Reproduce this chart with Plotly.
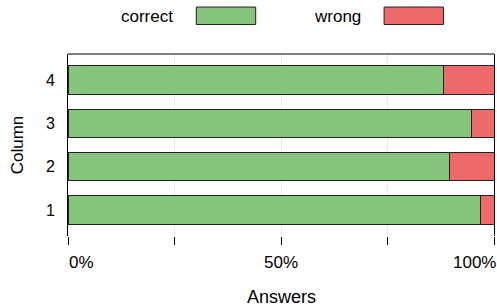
import plotly.graph_objects as go

columns = ["1", "2", "3", "4"]
correct = [96.8, 89.5, 94.8, 88.1]
wrong = [3.2, 10.5, 5.2, 11.9]
tick_vals = [0, 25, 50, 75, 100]
tick_text = ["0%", "", "50%", "", "100%"]
series_names = ["correct", "wrong"]
colors = ["#86C67C", "#EE6A6A"]

FONT = "Liberation Sans, Arial, sans-serif"

fig = go.Figure()
for name, vals, col in zip(series_names, [correct, wrong], colors):
    fig.add_trace(go.Bar(
        y=[int(c) for c in columns], x=vals, name=name, orientation="h",
        marker=dict(color=col, line=dict(color="#222222", width=1)),
        width=0.66, showlegend=False,
    ))

fig.update_layout(
    barmode="stack",
    width=497, height=307,
    margin=dict(l=68, r=3, t=54, b=71),
    paper_bgcolor="white", plot_bgcolor="white",
    font=dict(family=FONT, size=16, color="#000000"),
    xaxis=dict(
        range=[0, 100], tickvals=tick_vals, showticklabels=False,
        ticks="outside", ticklen=8, tickcolor="#000000", tickwidth=1,
        showgrid=True, gridcolor="#EBEBEB", gridwidth=1,
        zeroline=False, showline=False, fixedrange=True,
    ),
    yaxis=dict(
        range=[0.4, 4.6], tickvals=[1, 2, 3, 4], ticktext=columns,
        ticks="outside", ticklen=9, tickcolor="rgba(0,0,0,0)",
        showgrid=False, zeroline=False,
        showline=True, mirror=True, linecolor="#000000", linewidth=1,
        tickfont=dict(size=16),
        title=dict(text="Column", font=dict(size=17), standoff=17),
    ),
)

# top border
fig.add_shape(type="line", xref="paper", yref="paper", x0=0, x1=1, y0=1, y1=1,
              line=dict(color="#000000", width=1))

# x tick labels (ends aligned inward)
for v, t in zip(tick_vals, tick_text):
    if not t:
        continue
    anchor = "left" if v == tick_vals[0] else ("right" if v == tick_vals[-1] else "center")
    fig.add_annotation(x=v, y=0, xref="x", yref="paper", text=t, showarrow=False,
                       xanchor=anchor, yanchor="middle", yshift=-26,
                       font=dict(size=17), xshift=(4 if anchor == "right" else -1 if anchor == "left" else 0))

# x title
fig.add_annotation(x=0.5, y=0, xref="paper", yref="paper", text="Answers",
                   showarrow=False, yanchor="middle", yshift=-61, font=dict(size=18))

# legend (text left of swatch)
box_x0 = [0.3012, 0.7420]
for i, (name, col) in enumerate(zip(series_names, colors)):
    fig.add_annotation(x=box_x0[i], y=1.205, xref="paper", yref="paper",
                       text=name, showarrow=False, xanchor="right", yanchor="middle",
                       xshift=-21, font=dict(size=17))
    fig.add_shape(type="rect", xref="paper", yref="paper",
                  x0=box_x0[i], x1=box_x0[i] + 0.1394, y0=1.162, y1=1.258,
                  fillcolor=col, line=dict(color="#222222", width=1))

fig.write_html("out.html", config={"displayModeBar": False},
               post_script="document.body.style.margin='0';")
